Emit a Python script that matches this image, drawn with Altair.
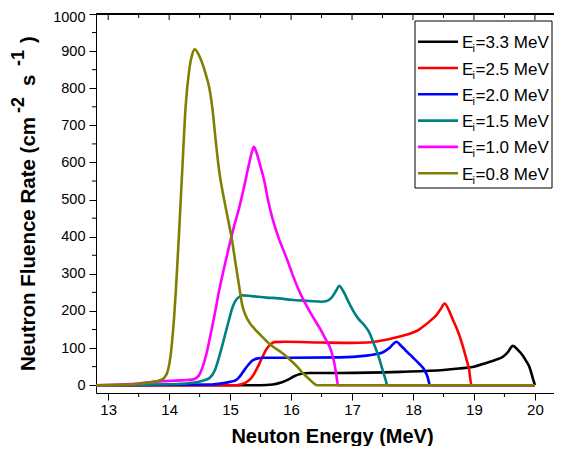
import altair as alt
import pandas as pd

# ---------------- data ----------------
series_labels = ["3.3", "2.5", "2.0", "1.5", "1.0", "0.8"]
series_colors = ["#000000", "#FF0000", "#0000FF", "#008080", "#FF00FF", "#808000"]

e_33 = [12.8, 15.5, 15.7, 15.85, 15.95, 16.05, 16.15, 16.3, 16.8, 17.8, 18.5, 18.75, 19.0, 19.2,
        19.35, 19.47, 19.55, 19.64, 19.72, 19.8, 19.85, 19.91, 19.96, 20.0]
f_33 = [0, 0, 2, 8, 15, 24, 30, 33, 33, 36, 41, 45, 50, 60, 68, 76, 88, 106, 95, 80, 67, 49, 22, 0]

e_25 = [12.8, 15.1, 15.2, 15.3, 15.36, 15.45, 15.53, 15.6, 15.65, 15.72, 15.9, 16.5, 17.0, 17.25,
        17.6, 17.8, 18.0, 18.1, 18.2, 18.3, 18.38, 18.45, 18.52, 18.58, 18.65, 18.72, 18.8, 18.86,
        18.92, 18.96, 20.0]
f_25 = [0, 0, 3, 12, 22, 48, 76, 98, 108, 116, 117, 115, 114, 115, 124, 132, 142, 150, 162, 176,
        188, 204, 220, 205, 178, 152, 115, 80, 42, 0, 0]

e_20 = [12.8, 14.7, 14.87, 15.0, 15.09, 15.16, 15.23, 15.3, 15.36, 15.45, 15.55, 16.0, 16.8, 17.2,
        17.4, 17.5, 17.61, 17.67, 17.73, 17.8, 17.9, 17.99, 18.1, 18.18, 18.24, 18.28, 20.0]
f_20 = [0, 2, 5, 9, 13, 24, 40, 55, 66, 72, 74, 74, 75, 79, 84, 88, 100, 110, 117, 107, 90, 76,
        58, 43, 22, 0, 0]

e_15 = [12.8, 13.8, 14.2, 14.44, 14.55, 14.66, 14.75, 14.82, 14.9, 14.98, 15.04, 15.09, 15.15,
        15.2, 15.35, 15.6, 15.8, 16.0, 16.3, 16.5, 16.57, 16.67, 16.74, 16.79, 16.85, 16.95, 17.05,
        17.12, 17.2, 17.28, 17.35, 17.42, 17.5, 17.55, 17.58, 20.0]
f_15 = [0, 2, 4, 8, 12, 19, 40, 76, 125, 175, 210, 228, 238, 242, 240, 236, 234, 230, 227, 225,
        226, 237, 255, 268, 255, 222, 192, 176, 162, 143, 115, 85, 42, 15, 0, 0]

e_10 = [12.8, 13.4, 13.67, 13.9, 14.05, 14.2, 14.38, 14.45, 14.49, 14.56, 14.62, 14.66, 14.74,
        14.82, 14.9, 14.98, 15.06, 15.15, 15.23, 15.31, 15.36, 15.39, 15.43, 15.5, 15.56, 15.62,
        15.69, 15.8, 15.92, 16.02, 16.13, 16.3, 16.41, 16.5, 16.58, 16.63, 16.68, 16.71, 16.74,
        16.77, 20.0]
f_10 = [0, 3, 8, 11, 12, 13, 15, 20, 27, 55, 90, 121, 185, 255, 315, 372, 425, 479, 535, 596, 630,
        642, 628, 588, 551, 500, 452, 395, 345, 300, 255, 200, 170, 145, 120, 105, 80, 59, 30, 0, 0]

e_08 = [12.8, 13.2, 13.5, 13.7, 13.84, 13.92, 13.98, 14.02, 14.05, 14.08, 14.11, 14.16, 14.22,
        14.27, 14.33, 14.38, 14.42, 14.48, 14.54, 14.6, 14.66, 14.71, 14.76, 14.82, 14.89, 14.96,
        15.03, 15.09, 15.15, 15.2, 15.25, 15.32, 15.4, 15.5, 15.6, 15.7, 15.86, 16.0, 16.1, 16.19,
        16.3, 16.43, 20.0]
f_08 = [0, 1, 4, 8, 13, 20, 40, 75, 121, 180, 255, 402, 596, 750, 850, 892, 905, 892, 869, 838,
        800, 745, 665, 578, 510, 452, 392, 327, 265, 215, 190, 168, 152, 135, 118, 104, 86, 66,
        50, 33, 16, 0, 0]

x_ticks = [13, 14, 15, 16, 17, 18, 19, 20]
y_ticks = [0, 100, 200, 300, 400, 500, 600, 700, 800, 900, 1000]

x_title = "Neuton Energy (MeV)"
# y title pieces: (text, is_superscript)
y_title_parts = [("Neutron Fluence Rate (cm", False), ("-2", True), ("s", False),
                 ("-1", True), (")", False)]

# ---------------- build tables ----------------
all_e = [e_33, e_25, e_20, e_15, e_10, e_08]
all_f = [f_33, f_25, f_20, f_15, f_10, f_08]
rows = []
for lab, es, fs in zip(series_labels, all_e, all_f):
    for e, f in zip(es, fs):
        rows.append({"series": lab, "E": e, "F": f})
df = pd.DataFrame(rows)

W, H = 458, 379
PXU = 60.96
X0 = 12.8
X1 = X0 + W / PXU
Y0, Y1 = -21.0, 1000.0
FONT = "Liberation Sans"
TOP = 14  # page y of plot top

xs = alt.Scale(domain=[X0, X1], nice=False, zero=False)
ys = alt.Scale(domain=[Y0, Y1], nice=False, zero=False)


def px2x(p):
    return X0 + p / W * (X1 - X0)


def py2y(p):
    return Y1 - p / H * (Y1 - Y0)


x_axis = alt.Axis(values=x_ticks, format="d", title=x_title, grid=False,
                  tickSize=7, labelPadding=2, labelFontSize=15, labelFont=FONT,
                  labelColor="black", tickColor="black", domainColor="black",
                  titleFont=FONT, titleFontSize=20, titleFontWeight="bold", titleColor="black",
                  titleX=236, titleY=49, titleBaseline="alphabetic", titleAlign="center")
y_axis = alt.Axis(values=y_ticks, format="d", title=None,
                  grid=False, tickSize=7, labelPadding=4, labelFontSize=14.5, labelFont=FONT,
                  labelColor="black", tickColor="black", domainColor="black",
                  labelOffset={"condition": {"test": "datum.value >= 1000", "value": 3},
                               "value": 0})


def X(field):
    return alt.X(field, type="quantitative", scale=xs, axis=x_axis)


def Y(field):
    return alt.Y(field, type="quantitative", scale=ys, axis=y_axis)


layers = []
for lab, col in zip(series_labels, series_colors):
    ch = alt.Chart(df).transform_filter(alt.datum.series == lab).mark_line(
        color=col, strokeWidth=2.6, interpolate="monotone").encode(
        x=X("E"), y=Y("F"))
    layers.append(ch)

# ---- decorative ticks (minor / mirrored) ----
x_minor = [v + 0.5 for v in x_ticks[:-1]]
y_minor = [v + 50 for v in y_ticks[:-1]]
dfx_major = pd.DataFrame({"E": x_ticks})
dfx_minor = pd.DataFrame({"E": x_minor})
dfy_minor = pd.DataFrame({"F": y_minor})

bottom_minor = alt.Chart(dfx_minor).mark_rule(color="black", strokeWidth=1).encode(
    x=X("E"), y=alt.value(H), y2=alt.value(H + 4))
top_major = alt.Chart(dfx_major).mark_rule(color="black", strokeWidth=1).encode(
    x=X("E"), y=alt.value(0), y2=alt.value(6))
top_minor = alt.Chart(dfx_minor).mark_rule(color="black", strokeWidth=1).encode(
    x=X("E"), y=alt.value(0), y2=alt.value(4))
left_minor = alt.Chart(dfy_minor).mark_rule(color="black", strokeWidth=1).encode(
    y=Y("F"), x=alt.value(-4), x2=alt.value(0))
top_line = alt.Chart(dfx_major).mark_rule(color="black", strokeWidth=1).encode(
    x=alt.value(0), x2=alt.value(W), y=alt.value(0))

# ---- y-axis title built from pieces so the exponents are real superscripts ----
MAIN_FS, SUP_FS = 20.5, 18
# (x baseline, start position) of each piece in plot pixel coords (rotated text reads upward)
piece_x = [-61, -72, -61, -72, -61]
piece_start = [371, 113, 86, 66, 43]
title_layers = []
one = pd.DataFrame({"k": [0]})
for (txt, sup), bx, st in zip(y_title_parts, piece_x, piece_start):
    fs = SUP_FS if sup else MAIN_FS
    title_layers.append(
        alt.Chart(one).mark_text(text=txt, angle=270, align="left", baseline="alphabetic",
                                 font=FONT, fontSize=fs, fontWeight="bold", color="black").encode(
            x=alt.value(bx), y=alt.value(st - TOP)))

# ---- legend (manual, to allow subscript) ----
LX0, LX1, LY0, LY1 = 319, 456, 7, 174
row0, drow = 27.7, 26.3
leg_box = pd.DataFrame({"x": [px2x(LX0)], "x2": [px2x(LX1)], "y": [py2y(LY0)], "y2": [py2y(LY1)]})
box = alt.Chart(leg_box).mark_rect(fill="white", stroke="black", strokeWidth=1).encode(
    x=X("x"), x2="x2:Q", y=Y("y"), y2="y2:Q")

leg_rows = []
for i, (lab, col) in enumerate(zip(series_labels, series_colors)):
    cy = row0 + i * drow
    leg_rows.append({"series": lab, "col": col,
                     "lx1": px2x(322), "lx2": px2x(362), "ly": py2y(cy),
                     "ex": px2x(366), "ix": px2x(376.5), "qx": px2x(379.5),
                     "ty": py2y(cy + 6.5), "sy": py2y(cy + 10.5),
                     "txt": "=" + lab + " MeV"})
leg_df = pd.DataFrame(leg_rows)

leg_lines = alt.Chart(leg_df).mark_rule(strokeWidth=2.6).encode(
    x=X("lx1"), x2="lx2:Q", y=Y("ly"),
    color=alt.Color("col:N", scale=None, legend=None))
leg_E = alt.Chart(leg_df).mark_text(text="E", align="left", baseline="alphabetic",
                                    font=FONT, fontSize=17, color="black").encode(
    x=X("ex"), y=Y("ty"))
leg_i = alt.Chart(leg_df).mark_text(text="i", align="left", baseline="alphabetic",
                                    font=FONT, fontSize=11, color="black").encode(
    x=X("ix"), y=Y("sy"))
leg_t = alt.Chart(leg_df).mark_text(align="left", baseline="alphabetic",
                                    font=FONT, fontSize=17, color="black").encode(
    x=X("qx"), y=Y("ty"), text="txt:N")

chart = alt.layer(
    *layers, bottom_minor, top_major, top_minor, left_minor, top_line,
    box, leg_lines, leg_E, leg_i, leg_t, *title_layers
).properties(
    width=W, height=H,
    padding={"left": 88, "top": TOP - 8, "right": 0, "bottom": 53},
    autosize=alt.AutoSizeParams(type="none"),
    background="white",
).configure_view(stroke=None)

chart.save("out.html", embed_options={"renderer": "svg", "actions": False})
